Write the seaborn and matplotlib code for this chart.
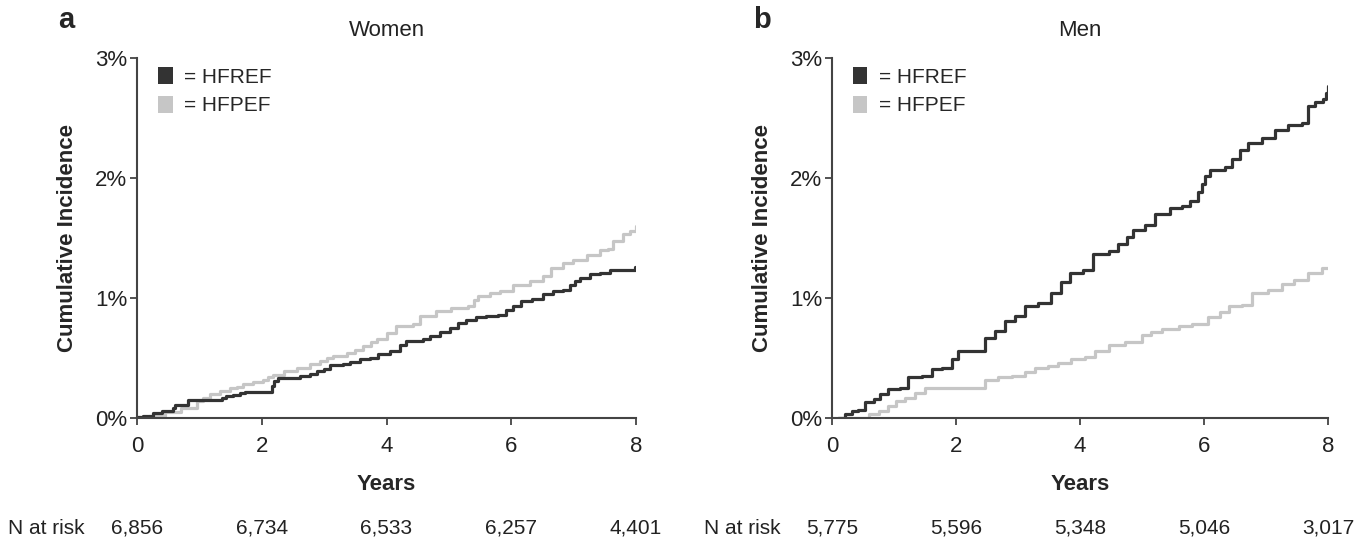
import numpy as np
import pandas as pd
import matplotlib
matplotlib.use("Agg")
import matplotlib.pyplot as plt
import seaborn as sns
from matplotlib.patches import Patch

# ---- data ----
women_ref_t = [0, 0.10, 0.25, 0.40, 0.58, 0.61, 0.82, 1.36, 1.42, 1.54, 1.65, 1.73, 2.16, 2.20, 2.26,
               2.35, 2.61, 2.77, 2.88, 2.99, 3.09, 3.31, 3.41, 3.57, 3.73, 3.87, 4.06, 4.21, 4.32, 4.59,
               4.70, 4.86, 5.02, 5.15, 5.28, 5.44, 5.60, 5.79, 5.92, 6.03, 6.16, 6.33, 6.51, 6.67, 6.83,
               6.94, 7.02, 7.10, 7.26, 7.42, 7.58, 7.98, 8.0]
women_ref_y = [0.01, 0.02, 0.04, 0.06, 0.08, 0.11, 0.15, 0.17, 0.18, 0.19, 0.21, 0.22, 0.27, 0.31, 0.33,
               0.33, 0.35, 0.37, 0.39, 0.41, 0.44, 0.45, 0.47, 0.49, 0.50, 0.53, 0.56, 0.61, 0.64, 0.66,
               0.68, 0.72, 0.75, 0.79, 0.82, 0.84, 0.85, 0.86, 0.90, 0.93, 0.975, 0.99, 1.03, 1.06, 1.07,
               1.11, 1.14, 1.17, 1.20, 1.21, 1.23, 1.26, 1.26]
women_pef_t = [0, 0.20, 0.45, 0.70, 0.96, 1.06, 1.17, 1.33, 1.49, 1.60, 1.70, 1.86, 2.02, 2.10, 2.18,
               2.35, 2.56, 2.77, 2.93, 3.05, 3.15, 3.36, 3.50, 3.63, 3.75, 3.84, 4.00, 4.16, 4.43, 4.54,
               4.80, 5.04, 5.31, 5.40, 5.47, 5.66, 5.82, 6.03, 6.30, 6.51, 6.64, 6.83, 6.99, 7.21, 7.42,
               7.55, 7.63, 7.79, 7.90, 8.0]
women_pef_y = [0.01, 0.02, 0.05, 0.08, 0.14, 0.17, 0.20, 0.225, 0.25, 0.26, 0.28, 0.30, 0.32, 0.34, 0.36,
               0.39, 0.42, 0.45, 0.475, 0.50, 0.52, 0.54, 0.57, 0.60, 0.63, 0.66, 0.71, 0.77, 0.78, 0.85,
               0.89, 0.92, 0.93, 0.98, 1.02, 1.04, 1.06, 1.11, 1.14, 1.18, 1.25, 1.29, 1.32, 1.36, 1.40,
               1.41, 1.475, 1.53, 1.56, 1.60]

men_ref_t = [0.10, 0.21, 0.32, 0.42, 0.53, 0.67, 0.77, 0.91, 1.10, 1.23, 1.45, 1.61, 1.77, 1.93, 2.04,
             2.33, 2.47, 2.63, 2.79, 2.95, 3.11, 3.33, 3.54, 3.70, 3.84, 4.05, 4.21, 4.46, 4.62, 4.75,
             4.86, 5.05, 5.21, 5.45, 5.64, 5.77, 5.91, 5.97, 6.02, 6.10, 6.34, 6.45, 6.58, 6.71, 6.93,
             7.15, 7.36, 7.58, 7.68, 7.79, 7.92, 7.97, 8.0]
men_ref_y = [0.00, 0.03, 0.06, 0.07, 0.13, 0.16, 0.20, 0.24, 0.25, 0.34, 0.35, 0.41, 0.42, 0.49, 0.56,
             0.56, 0.67, 0.725, 0.81, 0.85, 0.93, 0.96, 1.04, 1.13, 1.21, 1.23, 1.37, 1.39, 1.45, 1.51,
             1.57, 1.61, 1.70, 1.75, 1.77, 1.81, 1.88, 1.95, 2.02, 2.07, 2.09, 2.16, 2.23, 2.29, 2.33,
             2.40, 2.44, 2.46, 2.60, 2.63, 2.66, 2.71, 2.77]
men_pef_t = [0.10, 0.48, 0.59, 0.75, 0.91, 1.04, 1.18, 1.34, 1.50, 2.33, 2.47, 2.68, 2.90, 3.11, 3.27,
             3.49, 3.65, 3.86, 4.08, 4.24, 4.46, 4.73, 5.00, 5.15, 5.32, 5.59, 5.80, 6.07, 6.25, 6.40,
             6.61, 6.77, 7.04, 7.26, 7.45, 7.68, 7.90, 8.0]
men_pef_y = [0.00, 0.00, 0.03, 0.06, 0.10, 0.14, 0.17, 0.21, 0.25, 0.25, 0.32, 0.34, 0.35, 0.38, 0.42,
             0.43, 0.46, 0.49, 0.51, 0.56, 0.61, 0.63, 0.69, 0.72, 0.74, 0.77, 0.78, 0.84, 0.88, 0.93,
             0.94, 1.04, 1.07, 1.12, 1.15, 1.21, 1.25, 1.25]

x_ticks = [0, 2, 4, 6, 8]
y_ticks = [0, 1, 2, 3]
y_tick_labels = ["0%", "1%", "2%", "3%"]
women_at_risk = ["6,856", "6,734", "6,533", "6,257", "4,401"]
men_at_risk = ["5,775", "5,596", "5,348", "5,046", "3,017"]
groups = ["HFREF", "HFPEF"]
colors = {"HFREF": "#333333", "HFPEF": "#c6c6c6"}

sns.set_style("white")
plt.rcParams["font.family"] = ["Liberation Sans", "DejaVu Sans"]

fig = plt.figure(figsize=(13.71, 5.46), dpi=100)
axL = fig.add_axes([137/1371, 1-418/546, (636-137)/1371, (418-58)/546])
axR = fig.add_axes([832/1371, 1-418/546, (1328-832)/1371, (418-58)/546])

panels = [
    (axL, "Women", "a", women_ref_t, women_ref_y, women_pef_t, women_pef_y, women_at_risk, 66/1371, 8/1371),
    (axR, "Men", "b", men_ref_t, men_ref_y, men_pef_t, men_pef_y, men_at_risk, 762/1371, 704/1371),
]

for ax, title, letter, rt, ry, pt, py, risk, lx, nx in panels:
    df = pd.concat([
        pd.DataFrame({"t": rt, "y": ry, "g": "HFREF"}),
        pd.DataFrame({"t": pt, "y": py, "g": "HFPEF"}),
    ])
    sns.lineplot(data=df, x="t", y="y", hue="g", hue_order=["HFPEF", "HFREF"],
                 palette=colors, drawstyle="steps-post", linewidth=2.3,
                 legend=False, ax=ax, estimator=None, sort=False)
    ax.set_xlim(0, 8)
    ax.set_ylim(0, 3)
    ax.set_xticks(x_ticks)
    ax.set_xticklabels([str(v) for v in x_ticks], fontsize=16)
    ax.set_yticks(y_ticks)
    ax.set_yticklabels(y_tick_labels, fontsize=16)
    for s in ["top", "right"]:
        ax.spines[s].set_visible(False)
    for s in ["left", "bottom"]:
        ax.spines[s].set_color("#444444")
        ax.spines[s].set_linewidth(1.5)
    ax.tick_params(axis="both", direction="out", length=5, width=1.3, color="#444444",
                   left=True, bottom=True, labelcolor="#222222")
    ax.tick_params(axis="x", pad=8)
    ax.tick_params(axis="y", pad=2)
    ax.set_xlabel("Years", fontsize=16, fontweight="bold", labelpad=12)
    ax.set_ylabel("Cumulative Incidence", fontsize=16, fontweight="bold", labelpad=12)
    ax.set_title(title, fontsize=16, pad=16, color="#222222")
    fig.text(lx, 1-20/546, letter, fontsize=21, fontweight="bold", ha="center", va="center")
    handles = [Patch(facecolor=colors[g], edgecolor="none", label="= " + g) for g in groups]
    ax.legend(handles=handles, loc="upper left", bbox_to_anchor=(0.042, 0.975), frameon=False,
              fontsize=15, handlelength=0.7, handleheight=0.85, handletextpad=0.55,
              labelspacing=0.45, borderpad=0, borderaxespad=0)
    fig.text(nx, 1-528/546, "N at risk", fontsize=15, ha="left", va="center", color="#222222")
    for xv, lab in zip(x_ticks, risk):
        ax.annotate(lab, xy=(xv, 1-528/546), xycoords=("data", "figure fraction"),
                    fontsize=15, ha="center", va="center", color="#222222",
                    annotation_clip=False)

fig.savefig("out.png", dpi=100)
